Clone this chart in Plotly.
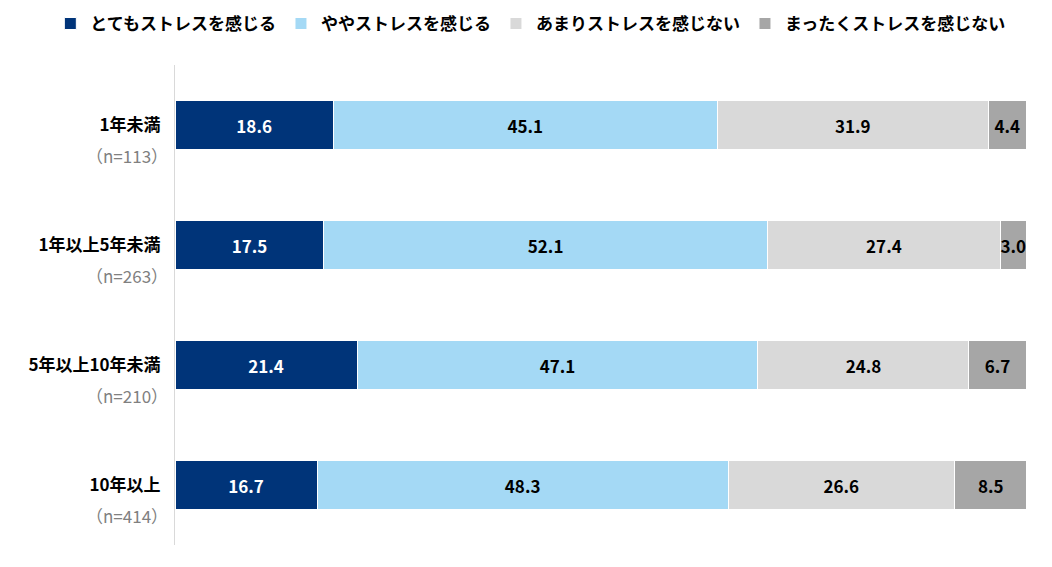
import plotly.graph_objects as go

categories = ["1年未満", "1年以上5年未満", "5年以上10年未満", "10年以上"]
n_labels = ["（n=113）", "（n=263）", "（n=210）", "（n=414）"]
series_names = ["とてもストレスを感じる", "ややストレスを感じる", "あまりストレスを感じない", "まったくストレスを感じない"]
very = [18.6, 17.5, 21.4, 16.7]
somewhat = [45.1, 52.1, 47.1, 48.3]
not_much = [31.9, 27.4, 24.8, 26.6]
not_at_all = [4.4, 3.0, 6.7, 8.5]

values = [very, somewhat, not_much, not_at_all]
colors = ["#003479", "#a4d9f5", "#d9d9d9", "#a6a6a6"]
text_colors = ["#ffffff", "#000000", "#000000", "#000000"]

FONT = "Noto Sans CJK JP"
tick_text = [f"<b>{c}</b>" for c in categories]

fig = go.Figure()
for name, vals, col, tc in zip(series_names, values, colors, text_colors):
    fig.add_trace(go.Bar(
        y=categories, x=vals, name=name, orientation="h",
        marker=dict(color=col, line=dict(color="#ffffff", width=1)),
        text=[f"{v:.1f}" for v in vals], textposition="inside",
        insidetextanchor="middle", textangle=0,
        textfont=dict(color=tc, size=17, family=FONT, weight="bold"),
        width=0.41,
    ))

for c, n in zip(categories, n_labels):
    fig.add_annotation(
        x=0, xref="paper", y=c, yref="y", text=n, showarrow=False,
        xanchor="right", yanchor="middle", xshift=-5, yshift=-30,
        font=dict(size=17, family=FONT, color="#808080"),
    )

fig.update_layout(
    barmode="stack",
    width=1044, height=559,
    margin=dict(l=167, r=26, t=57, b=22, autoexpand=False),
    paper_bgcolor="#ffffff", plot_bgcolor="#ffffff",
    font=dict(family=FONT, size=14, color="#000000"),
    uniformtext=dict(minsize=17, mode="show"),
    showlegend=True,
    legend=dict(orientation="h", x=-0.1465, xref="paper", xanchor="left",
                y=1.123, yref="paper", yanchor="top",
                font=dict(size=17, family=FONT, weight="bold"),
                traceorder="normal"),
    xaxis=dict(range=[0, 100], showgrid=False, showticklabels=False, zeroline=False,
               fixedrange=True, automargin=False),
    yaxis=dict(categoryorder="array", categoryarray=categories, autorange="reversed",
               tickmode="array", tickvals=categories, ticktext=tick_text,
               showline=True, linecolor="#d9d9d9", linewidth=1, ticks="", ticklen=0,
               tickfont=dict(size=17, family=FONT), ticklabelstandoff=10,
               automargin=False),
)

fig.write_html("out.html")
